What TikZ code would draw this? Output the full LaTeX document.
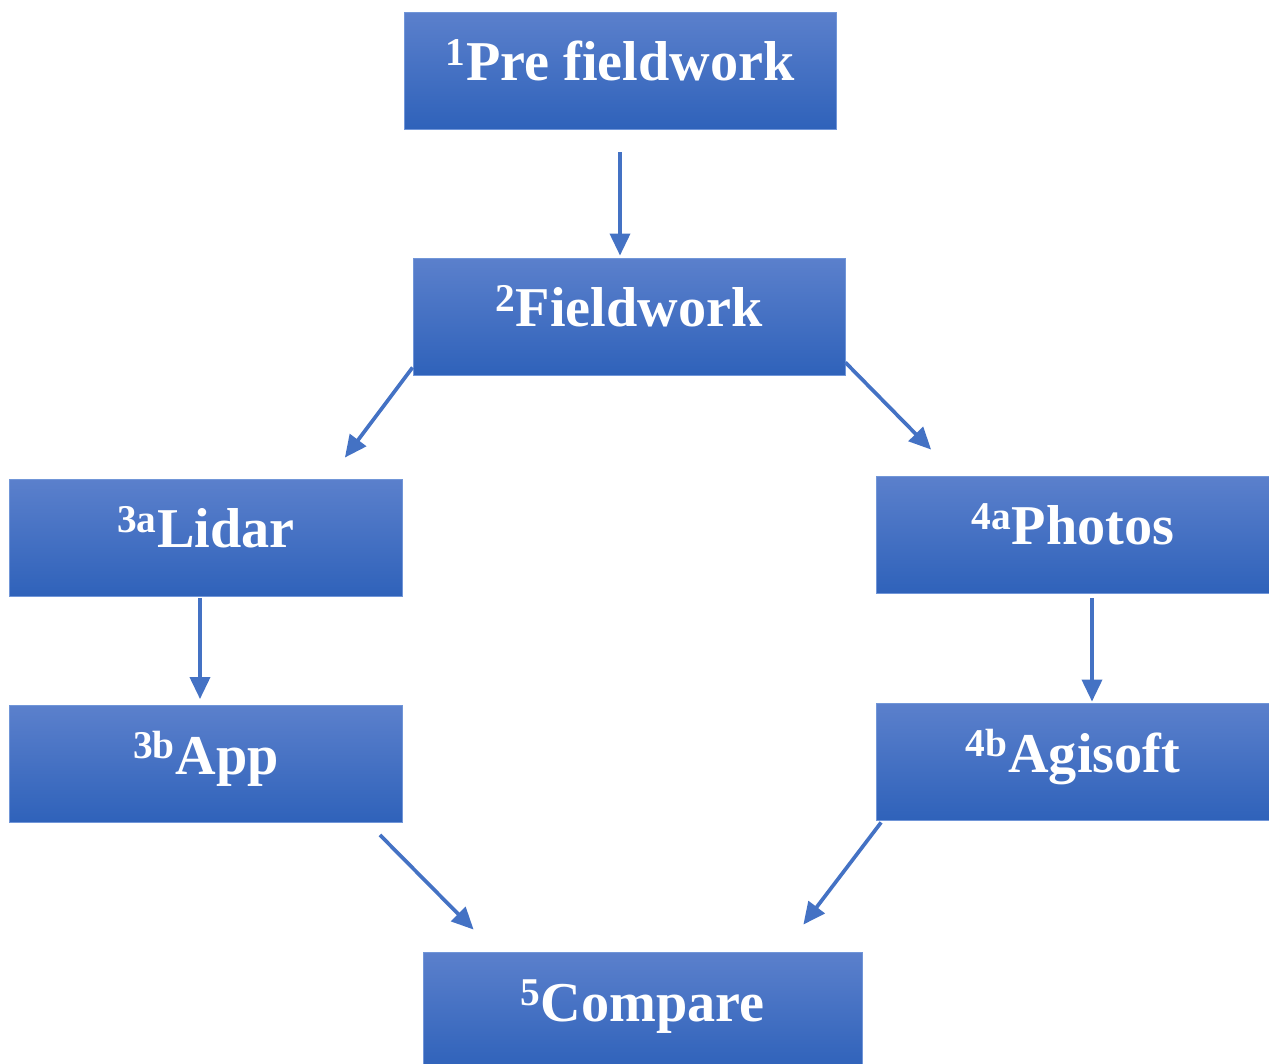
\documentclass[tikz,border=0pt]{standalone}
\usepackage{fontspec}
\setmainfont{Liberation Serif}
\usepackage{tikz}
\usetikzlibrary{positioning,arrows.meta,calc}
\definecolor{cazulsup}{HTML}{5B80CC}
\definecolor{cazulinf}{HTML}{2F62BA}
\definecolor{cborde}{HTML}{7196D8}
\definecolor{cflecha}{HTML}{4472C4}
\tikzset{
  caja/.style={rectangle, top color=cazulsup, bottom color=cazulinf, draw=cborde,
    line width=0.5pt, minimum height=2.34cm, text=white,
    font=\fontsize{32}{38}\selectfont\bfseries, text height=0.8cm, text depth=0.38cm},
  cajaa/.style={caja, minimum width=8.64cm},
  cajab/.style={caja, minimum width=7.86cm},
  flecha/.style={-{Triangle[length=0.44cm,width=0.4cm]}, line width=2.1pt, draw=cflecha},
}

\begin{document}
\begin{tikzpicture}[x=0.02cm, y=-0.02cm]
  \useasboundingbox (0,0) rectangle (1269,1064);
  \node[cajaa] (pre) at (620,70.5) {\textsuperscript{1}Pre fieldwork};
  \node[cajaa] (field) at (629,316.5) {\textsuperscript{2}Fieldwork};
  \node[cajab] (lidar) at (206,537.5) {\textsuperscript{3a}Lidar};
  \node[cajab] (photos) at (1073,534.5) {\textsuperscript{4a}Photos};
  \node[cajab] (app) at (206,764) {\textsuperscript{3b}App};
  \node[cajab] (agi) at (1073,761.5) {\textsuperscript{4b}Agisoft};
  \node[caja, minimum width=8.78cm] (comp) at (642.5,1010.5) {\textsuperscript{5}Compare};
  \draw[flecha] ([shift={(0,23)}]pre.south) -- ([shift={(-9,-2)}]field.north);
  \draw[flecha] ([shift={(0,-8)}]field.south west) -- ([shift={(-58,-21)}]lidar.north east);
  \draw[flecha] ([shift={(0,-13)}]field.south east) -- ([shift={(55,-26)}]photos.north west);
  \draw[flecha] ([shift={(-6,2)}]lidar.south) -- ([shift={(-6,-6)}]app.north);
  \draw[flecha] ([shift={(19,5)}]photos.south) -- ([shift={(19,-1)}]agi.north);
  \draw[flecha] ([shift={(-23,12)}]app.south east) -- ([shift={(51,-22)}]comp.north west);
  \draw[flecha] ([shift={(5,2)}]agi.south west) -- ([shift={(-59,-27)}]comp.north east);
\end{tikzpicture}
\end{document}
